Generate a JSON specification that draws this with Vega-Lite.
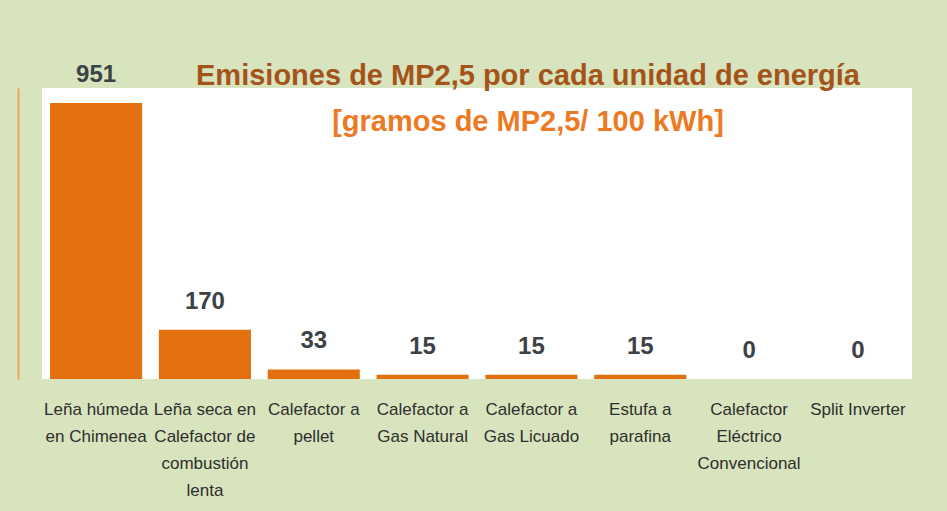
{
  "$schema": "https://vega.github.io/schema/vega-lite/v6.json",
  "width": 870,
  "height": 291,
  "autosize": {"type": "none"},
  "padding": {"left": 42, "top": 88, "right": 35, "bottom": 132},
  "background": "#d8e4bd",
  "config": {
    "view": {"fill": "#ffffff", "stroke": null},
    "font": "Liberation Sans"
  },
  "title": {
    "text": "Emisiones de MP2,5 por cada unidad de energía",
    "subtitle": "[gramos de MP2,5/ 100 kWh]",
    "anchor": "middle",
    "frame": "group",
    "orient": "top",
    "dx": 51,
    "offset": -74,
    "font": "Liberation Sans",
    "fontSize": 29,
    "fontWeight": "bold",
    "color": "#a4541a",
    "subtitleFont": "Liberation Sans",
    "subtitleFontSize": 29,
    "subtitleFontWeight": "bold",
    "subtitleColor": "#ec7a22",
    "subtitlePadding": 17
  },
  "data": {
    "values": [
      {"fuente": "Leña húmeda|en Chimenea", "valor": 951},
      {"fuente": "Leña seca en|Calefactor de|combustión|lenta", "valor": 170},
      {"fuente": "Calefactor a|pellet", "valor": 33},
      {"fuente": "Calefactor a|Gas Natural", "valor": 15},
      {"fuente": "Calefactor a|Gas Licuado", "valor": 15},
      {"fuente": "Estufa a|parafina", "valor": 15},
      {"fuente": "Calefactor|Eléctrico|Convencional", "valor": 0},
      {"fuente": "Split Inverter", "valor": 0}
    ]
  },
  "encoding": {
    "x": {
      "field": "fuente",
      "type": "nominal",
      "sort": null,
      "scale": {"paddingInner": 0.154, "paddingOuter": 0.074},
      "axis": {
        "title": null,
        "labelAngle": 0,
        "labelExpr": "split(datum.label, '|')",
        "labelFont": "Liberation Sans",
        "labelFontSize": 17,
        "labelColor": "#2e2e2e",
        "labelLineHeight": 27,
        "labelBaseline": "top",
        "labelPadding": 22,
        "labelLimit": 200,
        "ticks": false,
        "domain": false
      }
    },
    "y": {
      "field": "valor",
      "type": "quantitative",
      "scale": {"domain": [0, 1003], "nice": false},
      "axis": {
        "title": null,
        "labels": false,
        "ticks": false,
        "grid": false,
        "offset": 24,
        "domain": true,
        "domainColor": "#eda566",
        "domainWidth": 2
      }
    }
  },
  "layer": [
    {"mark": {"type": "bar", "color": "#e3700e"}},
    {
      "mark": {
        "type": "text",
        "dy": -21,
        "baseline": "alphabetic",
        "font": "Liberation Sans",
        "fontSize": 24,
        "fontWeight": "bold",
        "color": "#3c4246"
      },
      "encoding": {"text": {"field": "valor", "type": "quantitative"}}
    }
  ]
}
